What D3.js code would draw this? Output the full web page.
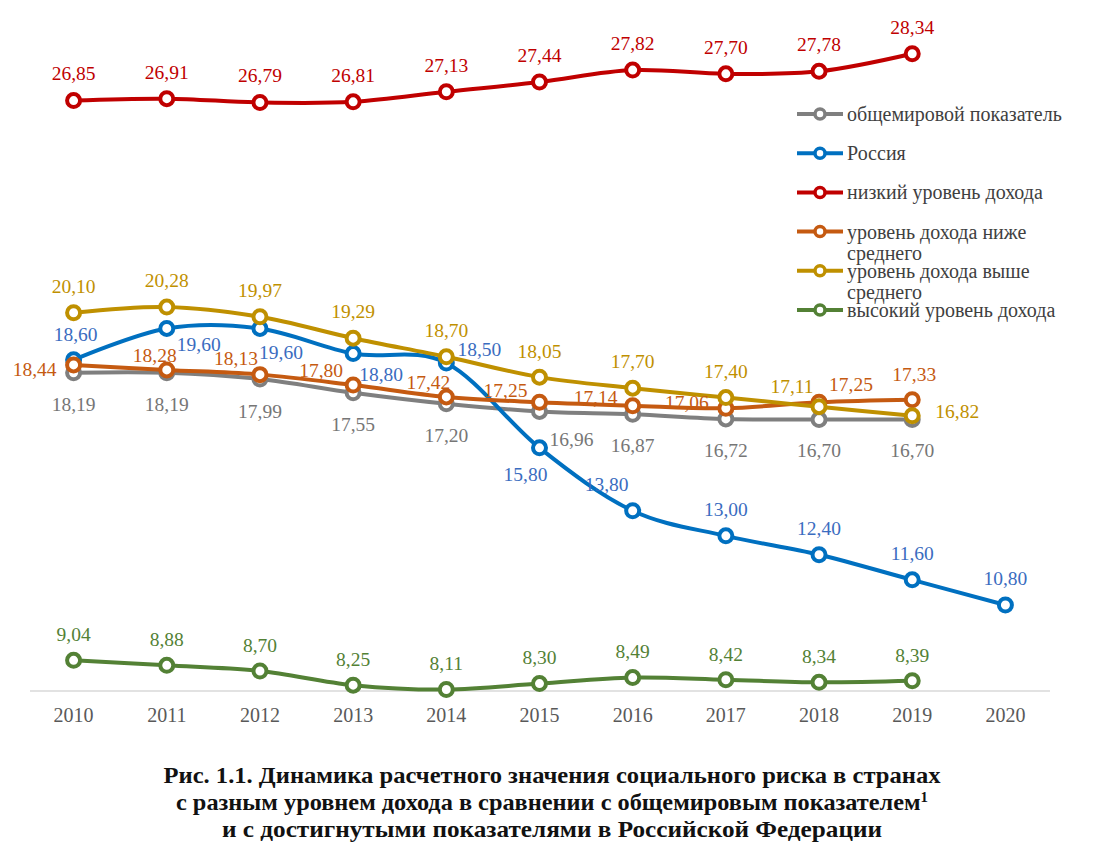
<!DOCTYPE html>
<html><head><meta charset="utf-8">
<script src="https://cdn.jsdelivr.net/npm/d3@7"></script>
<style>body{margin:0;background:#fff}svg{display:block}text{font-family:"Liberation Serif","Times New Roman",serif}</style>
</head><body>
<svg id="c" width="1105" height="864"></svg>
<script>
const years = [2010,2011,2012,2013,2014,2015,2016,2017,2018,2019,2020];
const world  = [18.19,18.19,17.99,17.55,17.20,16.96,16.87,16.72,16.70,16.70,null];
const russia = [18.60,19.60,19.60,18.80,18.50,15.80,13.80,13.00,12.40,11.60,10.80];
const low    = [26.85,26.91,26.79,26.81,27.13,27.44,27.82,27.70,27.78,28.34,null];
const lowerMid = [18.44,18.28,18.13,17.80,17.42,17.25,17.14,17.06,17.25,17.33,null];
const upperMid = [20.10,20.28,19.97,19.29,18.70,18.05,17.70,17.40,17.11,16.82,null];
const high   = [9.04,8.88,8.70,8.25,8.11,8.30,8.49,8.42,8.34,8.39,null];
const seriesNames = [["общемировой показатель"],["Россия"],["низкий уровень дохода"],["уровень дохода ниже","среднего"],["уровень дохода выше","среднего"],["высокий уровень дохода"]];
const titleLines = ["Рис. 1.1. Динамика расчетного значения социального риска в странах","с разным уровнем дохода в сравнении с общемировым показателем","и с достигнутыми показателями в Российской Федерации"];

// label offsets (layout only), relative to point: [dx, dy]
const A = [0,-27];
const labelOffsets = [
  [[0,31],[0,31],[0,32],[0,31],[0,31],[32,28],[0,31],[0,31],[0,31],[0,31]],
  [[2,-26],[32,16],[21,24],[28,21],[33,-14],[-14,26],[-26,-27],A,A,A,A],
  [A,A,A,A,A,A,A,A,A,A],
  [[-39,4],[-12,-15],[-24,-16],[-32,-15],[-18,-15],[-34,-12],[-37,-9],[-39,-6],[32,-18],[2,-26]],
  [A,A,A,A,A,[0,-26],[0,-27],[0,-26],[-27,-21],[45,-5]],
  [[0,-26],[0,-26],[0,-26],[0,-26],[0,-26],[0,-26],[0,-26],[0,-26],[0,-26],[0,-26]]
];
const lineColors = ["#7f7f7f","#0070c0","#c00000","#c55a11","#bf9000","#538135"];
const labelColors = ["#767676","#3a6cc0","#c00000","#c55a11","#bf9000","#538135"];
const allSeries = [world,russia,low,lowerMid,upperMid,high];

const svg = d3.select("#c");
const x = d3.scaleBand().domain(years).range([27,1052]);
const y = d3.scaleLinear().domain([8,29]).range([693,33]);
const cx = d => x(d) + x.bandwidth()/2;

// axis
const ax = svg.append("g").attr("transform","translate(0,691)").call(d3.axisBottom(x).tickSize(0).tickPadding(17));
ax.select(".domain").attr("stroke","#d9d9d9").attr("stroke-width",1.5).attr("d","M30,0H1050");
ax.selectAll("text").attr("font-size",20).attr("fill","#595959").attr("font-family","Liberation Serif");

const line = d3.line().defined(d=>d.v!=null).x(d=>cx(d.year)).y(d=>y(d.v)).curve(d3.curveCatmullRom.alpha(0));

allSeries.forEach((s,i)=>{
  const pts = years.map((yr,j)=>({year:yr,v:s[j],j})).filter(d=>d.v!=null);
  const g = svg.append("g");
  g.append("path").datum(pts).attr("d",line).attr("fill","none").attr("stroke",lineColors[i]).attr("stroke-width",4).attr("stroke-linejoin","round");
  g.selectAll("circle").data(pts).join("circle").attr("cx",d=>cx(d.year)).attr("cy",d=>y(d.v)).attr("r",6.5)
    .attr("fill","#fff").attr("stroke",lineColors[i]).attr("stroke-width",4);
});
allSeries.forEach((s,i)=>{
  const pts = years.map((yr,j)=>({year:yr,v:s[j],j})).filter(d=>d.v!=null);
  svg.append("g").selectAll("text").data(pts).join("text")
    .attr("x",d=>cx(d.year)+labelOffsets[i][d.j][0]).attr("y",d=>y(d.v)+labelOffsets[i][d.j][1])
    .attr("dy","0.35em").attr("text-anchor","middle").attr("font-size",19.5).attr("fill",labelColors[i])
    .text(d=>d3.format(".2f")(d.v).replace(".",","));
});

// legend
const lg = svg.append("g");
seriesNames.forEach((nm,i)=>{
  const yy = 114 + i*39.2;
  lg.append("line").attr("x1",797).attr("x2",843).attr("y1",yy).attr("y2",yy).attr("stroke",lineColors[i]).attr("stroke-width",4);
  lg.append("circle").attr("cx",820).attr("cy",yy).attr("r",5).attr("fill","#fff").attr("stroke",lineColors[i]).attr("stroke-width",3.5);
  nm.forEach((t,k)=>{
    lg.append("text").attr("x",847).attr("y",yy+k*21).attr("dy","0.35em").attr("font-size",20).attr("fill","#404040").text(t);
  });
});

// caption
const widths = [777,752,660];
titleLines.forEach((t,i)=>{
  const tx = svg.append("text").attr("x",552).attr("y",775+i*27).attr("dy","0.35em").attr("text-anchor","middle")
    .attr("font-size",23).attr("font-weight","bold").attr("fill","#111").attr("textLength",widths[i]).attr("lengthAdjust","spacingAndGlyphs");
  tx.append("tspan").text(t);
  if(i===1) tx.append("tspan").attr("font-size",14).attr("dy","-0.6em").text("1");
});
</script>
</body></html>
